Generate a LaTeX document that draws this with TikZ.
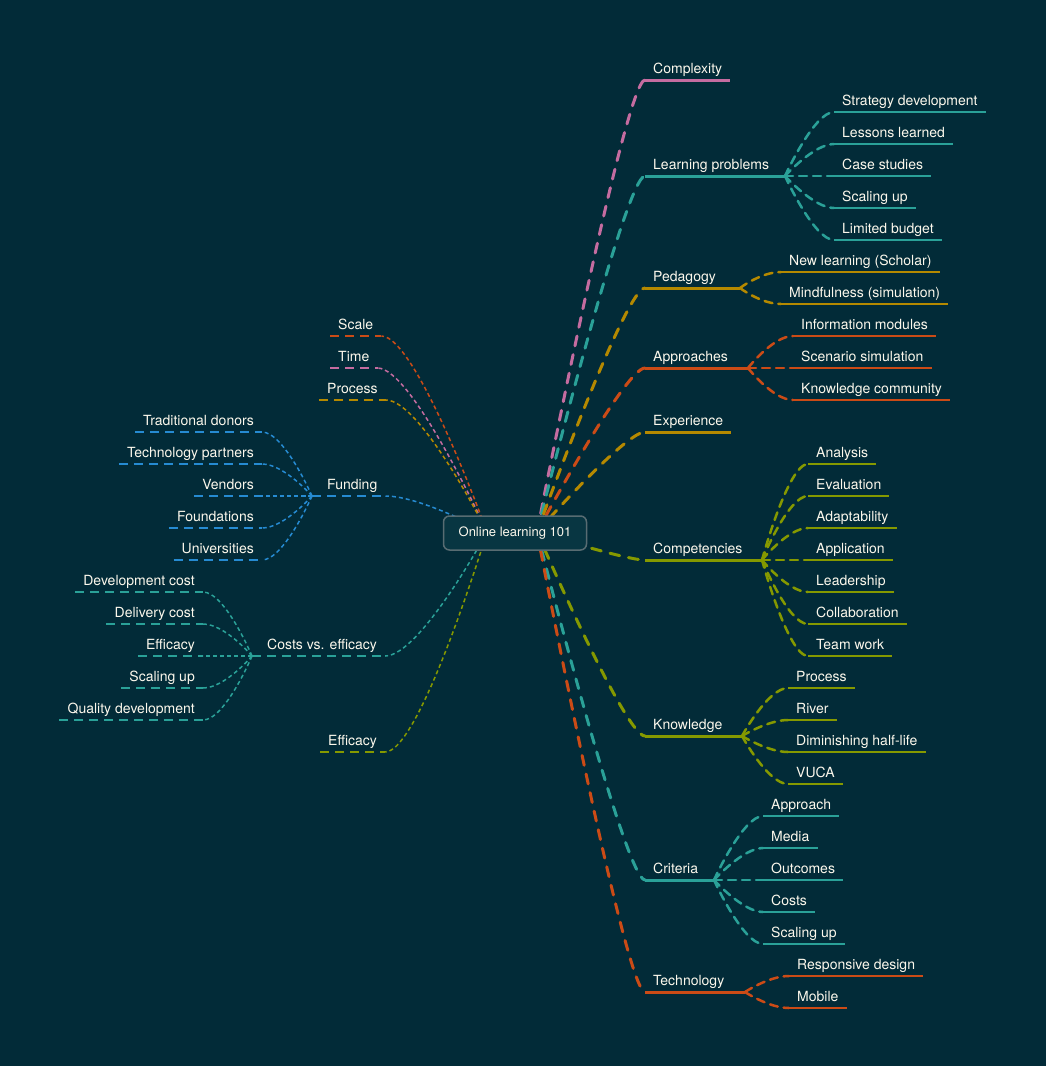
\documentclass[tikz,border=0pt]{standalone}
\usepackage{fontspec}
\setmainfont{TeX Gyre Heros}

\definecolor{bgcol}{RGB}{2,43,56}
\definecolor{txtcol}{RGB}{252,248,236}
\definecolor{rootline}{RGB}{88,108,114}
\definecolor{rootfill}{RGB}{8,54,66}
\definecolor{mmpink}{RGB}{197,108,160}
\definecolor{mmcyan}{RGB}{42,161,152}
\definecolor{mmyellow}{RGB}{181,137,0}
\definecolor{mmorange}{RGB}{203,75,22}
\definecolor{mmgreen}{RGB}{133,153,0}
\definecolor{mmblue}{RGB}{38,139,210}

\tikzset{
  lbl/.style={font=\fontsize{14}{16}\selectfont, text=txtcol, inner xsep=8pt, inner ysep=3pt, text height=10.5pt, text depth=3pt},
  rootbox/.style={draw=rootline, fill=rootfill, line width=1.5pt, rounded corners=6pt,
    minimum width=143pt, minimum height=34pt, text=txtcol, font=\fontsize{13}{15}\selectfont},
  toR/.style={to path={.. controls +(0,0) and +(-20,0) .. (\tikztotarget)}},
  toL/.style={to path={.. controls +(0,0) and +(35,0) .. (\tikztotarget)}},
  toLs/.style={to path={.. controls +(0,0) and +(22,0) .. (\tikztotarget)}},
  mainR/.style={line width=3pt, dash pattern=on 10pt off 9pt, line cap=round},
  subR/.style={line width=2.5pt, dash pattern=on 8pt off 6pt, line cap=round},
  ulM/.style={line width=3pt},
  ulR/.style={line width=2.5pt},
  mainL/.style={line width=1.5pt, dash pattern=on 4pt off 3pt},
  ulL/.style={line width=1.5pt, dash pattern=on 9pt off 6pt}
}

\begin{document}
\begin{tikzpicture}[x=1pt, y=-1pt]
    \fill[bgcol] (0,0) rectangle (1046,1066);
    \useasboundingbox (0,0) rectangle (1046,1066);

    \coordinate (rootR) at (537,532);
    \coordinate (rootL) at (487,532);

    % Right side: main topics
    \node[lbl, anchor=south west] (cx) at (645,80) {Complexity};
    \node[lbl, anchor=south west] (lp) at (645,176) {Learning problems};
    \node[lbl, anchor=south west] (ped) at (645,288) {Pedagogy};
    \node[lbl, anchor=south west] (appr) at (645,368) {Approaches};
    \node[lbl, anchor=south west] (exp) at (645,432) {Experience};
    \node[lbl, anchor=south west] (comp) at (645,560) {Competencies};
    \node[lbl, anchor=south west] (know) at (645,736) {Knowledge};
    \node[lbl, anchor=south west] (crit) at (645,880) {Criteria};
    \node[lbl, anchor=south west] (tech) at (645,992) {Technology};

    \coordinate (lphub) at (785,176);
    \coordinate (pedhub) at (740,288);
    \coordinate (apprhub) at (748,368);
    \coordinate (comphub) at (762,560);
    \coordinate (knowhub) at (742,736);
    \coordinate (crithub) at (714,880);
    \coordinate (techhub) at (745,992);

    \draw[mainR, mmpink] (rootR) to[toR] (cx.south west);
    \draw[ulM, mmpink] (cx.south west) -- (cx.south east);
    \draw[mainR, mmcyan] (rootR) to[toR] (lp.south west);
    \draw[ulM, mmcyan] (lp.south west) -- (lphub);
    \draw[mainR, mmyellow] (rootR) to[toR] (ped.south west);
    \draw[ulM, mmyellow] (ped.south west) -- (pedhub);
    \draw[mainR, mmorange] (rootR) to[toR] (appr.south west);
    \draw[ulM, mmorange] (appr.south west) -- (apprhub);
    \draw[mainR, mmyellow] (rootR) to[toR] (exp.south west);
    \draw[ulM, mmyellow] (exp.south west) -- (exp.south east);
    \draw[mainR, mmgreen] (rootR) to[toR] (comp.south west);
    \draw[ulM, mmgreen] (comp.south west) -- (comphub);
    \draw[mainR, mmgreen] (rootR) to[toR] (know.south west);
    \draw[ulM, mmgreen] (know.south west) -- (knowhub);
    \draw[mainR, mmcyan] (rootR) to[toR] (crit.south west);
    \draw[ulM, mmcyan] (crit.south west) -- (crithub);
    \draw[mainR, mmorange] (rootR) to[toR] (tech.south west);
    \draw[ulM, mmorange] (tech.south west) -- (techhub);

    % Right side: leaves
    \foreach \nm/\yy/\txt in {lp-sd/112/Strategy development, lp-ll/144/Lessons learned, lp-cs/176/Case studies,
        lp-su/208/Scaling up, lp-lb/240/Limited budget} {
      \node[lbl, anchor=south west] (\nm) at (834,\yy) {\txt};
      \draw[subR, mmcyan] (lphub) to[toR] (\nm.south west);
      \draw[ulR, mmcyan] (\nm.south west) -- (\nm.south east);
    }
    \foreach \nm/\yy/\txt in {ped-nl/272/New learning (Scholar), ped-mf/304/Mindfulness (simulation)} {
      \node[lbl, anchor=south west] (\nm) at (781,\yy) {\txt};
      \draw[subR, mmyellow] (pedhub) to[toR] (\nm.south west);
      \draw[ulR, mmyellow] (\nm.south west) -- (\nm.south east);
    }
    \foreach \nm/\yy/\txt in {ap-im/336/Information modules, ap-ss/368/Scenario simulation, ap-kc/400/Knowledge community} {
      \node[lbl, anchor=south west] (\nm) at (793,\yy) {\txt};
      \draw[subR, mmorange] (apprhub) to[toR] (\nm.south west);
      \draw[ulR, mmorange] (\nm.south west) -- (\nm.south east);
    }
    \foreach \nm/\yy/\txt in {co-an/464/Analysis, co-ev/496/Evaluation, co-ad/528/Adaptability, co-ap/560/Application,
        co-le/592/Leadership, co-cb/624/Collaboration, co-tw/656/Team work} {
      \node[lbl, anchor=south west] (\nm) at (808,\yy) {\txt};
      \draw[subR, mmgreen] (comphub) to[toR] (\nm.south west);
      \draw[ulR, mmgreen] (\nm.south west) -- (\nm.south east);
    }
    \foreach \nm/\yy/\txt in {kn-pr/688/Process, kn-ri/720/River, kn-dh/752/Diminishing half-life, kn-vu/784/VUCA} {
      \node[lbl, anchor=south west] (\nm) at (788,\yy) {\txt};
      \draw[subR, mmgreen] (knowhub) to[toR] (\nm.south west);
      \draw[ulR, mmgreen] (\nm.south west) -- (\nm.south east);
    }
    \foreach \nm/\yy/\txt in {cr-ap/816/Approach, cr-me/848/Media, cr-ou/880/Outcomes, cr-co/912/Costs, cr-su/944/Scaling up} {
      \node[lbl, anchor=south west] (\nm) at (763,\yy) {\txt};
      \draw[subR, mmcyan] (crithub) to[toR] (\nm.south west);
      \draw[ulR, mmcyan] (\nm.south west) -- (\nm.south east);
    }
    \foreach \nm/\yy/\txt in {te-rd/976/Responsive design, te-mo/1008/Mobile} {
      \node[lbl, anchor=south west] (\nm) at (789,\yy) {\txt};
      \draw[subR, mmorange] (techhub) to[toR] (\nm.south west);
      \draw[ulR, mmorange] (\nm.south west) -- (\nm.south east);
    }

    % Left side: main topics
    \node[lbl, anchor=south west] (scale) at (330,336) {Scale};
    \node[lbl, anchor=south west] (time) at (330,368) {Time};
    \node[lbl, anchor=south west] (proc) at (319,400) {Process};
    \node[lbl, anchor=south west] (fund) at (319,496) {Funding};
    \node[lbl, anchor=south west] (cost) at (259,656) {Costs vs. efficacy};
    \node[lbl, anchor=south west] (effi) at (320,752) {Efficacy};

    \coordinate (fundhub) at (312,496);
    \coordinate (costhub) at (252,656);

    \draw[mainL, mmorange] (rootL) to[toL] (scale.south east);
    \draw[ulL, mmorange] (scale.south west) -- (scale.south east);
    \draw[mainL, mmpink] (rootL) to[toL] (time.south east);
    \draw[ulL, mmpink] (time.south west) -- (time.south east);
    \draw[mainL, mmyellow] (rootL) to[toL] (proc.south east);
    \draw[ulL, mmyellow] (proc.south west) -- (proc.south east);
    \draw[mainL, mmblue] (rootL) to[toL] (fund.south east);
    \draw[ulL, mmblue] (fundhub) -- (fund.south east);
    \draw[mainL, mmcyan] (rootL) to[toL] (cost.south east);
    \draw[ulL, mmcyan] (costhub) -- (cost.south east);
    \draw[mainL, mmgreen] (rootL) to[toL] (effi.south east);
    \draw[ulL, mmgreen] (effi.south west) -- (effi.south east);

    % Left side: leaves
    \foreach \nm/\yy/\txt in {fu-td/432/Traditional donors, fu-tp/464/Technology partners, fu-ve/496/Vendors,
        fu-fo/528/Foundations, fu-un/560/Universities} {
      \node[lbl, anchor=south east] (\nm) at (262,\yy) {\txt};
      \draw[mainL, mmblue] (fundhub) to[toLs] (\nm.south east);
      \draw[ulL, mmblue] (\nm.south west) -- (\nm.south east);
    }
    \foreach \nm/\yy/\txt in {ce-dc/592/Development cost, ce-dl/624/Delivery cost, ce-ef/656/Efficacy,
        ce-su/688/Scaling up, ce-qd/720/Quality development} {
      \node[lbl, anchor=south east] (\nm) at (203,\yy) {\txt};
      \draw[mainL, mmcyan] (costhub) to[toLs] (\nm.south east);
      \draw[ulL, mmcyan] (\nm.south west) -- (\nm.south east);
    }

    % Centre node on top
    \node[rootbox] (root) at (515,533) {Online learning 101};
\end{tikzpicture}
\end{document}
